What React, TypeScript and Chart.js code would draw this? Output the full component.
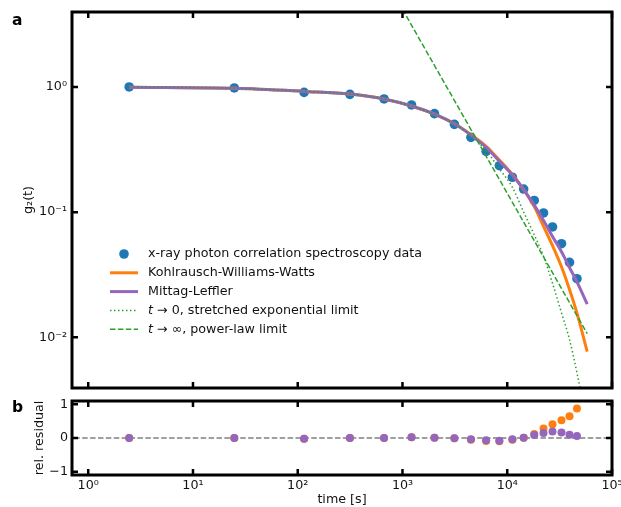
import React, { useEffect, useRef } from 'react';
import { Chart, registerables } from 'chart.js';

Chart.register(...registerables);

const FONT = '"DejaVu Sans", sans-serif';
const TXT = '#111111';

// measured correlation data
const times = [2.46, 24.8, 115, 315, 667, 1220, 2020, 3130, 4500, 6290, 8410, 11200, 14350, 18100, 22200, 27050, 32950, 39300, 46300];
const g2Data = [1.0, 0.982, 0.905, 0.873, 0.802, 0.718, 0.612, 0.503, 0.396, 0.306, 0.235, 0.19, 0.153, 0.124, 0.0986, 0.0762, 0.056, 0.0397, 0.0294];

// fitted curves
const fitTimes = [2.46, 24.8, 115, 315, 667, 1220, 2020, 3130, 4500, 6290, 8410, 11200, 14350, 18100, 22200, 27050, 32950, 39300, 46300, 58000];
const kwwFit = [0.995, 0.976, 0.922, 0.879, 0.802, 0.704, 0.606, 0.508, 0.417, 0.336, 0.261, 0.2, 0.1515, 0.1107, 0.077, 0.054, 0.0366, 0.0241, 0.0156, 0.0077];
const mlFit = [0.995, 0.976, 0.922, 0.879, 0.802, 0.704, 0.606, 0.508, 0.4125, 0.329, 0.2554, 0.198, 0.1515, 0.1138, 0.0857, 0.064, 0.0483, 0.0361, 0.0277, 0.0184];
const shortTimeLimit = [0.995, 0.976, 0.922, 0.879, 0.802, 0.704, 0.606, 0.505, 0.41, 0.31, 0.222, 0.158, 0.1, 0.066, 0.0444, 0.027, 0.0157, 0.0096, 0.0052, 0.002];
const powerLawTimes = [1000, 58000];
const powerLawValues = [4.17, 0.0107];

// relative residuals
const resKWW = [0, 0, -0.02, 0, 0, 0.02, 0.01, -0.01, -0.05, -0.09, -0.1, -0.05, 0.01, 0.12, 0.28, 0.41, 0.53, 0.65, 0.88];
const resML = [0, 0, -0.02, 0, 0, 0.02, 0.01, -0.01, -0.04, -0.07, -0.08, -0.04, 0.01, 0.09, 0.15, 0.19, 0.16, 0.1, 0.06];

// axes
const xMin = 0.736;
const xMax = 1e5;
const yMin = 0.00394;
const yMax = 3.97;
const resMin = -1.1;
const resMax = 1.1;
const xDecades = [1, 10, 100, 1000, 10000, 100000];
const yDecades = [0.01, 0.1, 1];
const resTicks = [-1, 0, 1];
const zeroLineT = [xMin, xMax];
const zeroLineV = [0, 0];

const BLUE = '#1f77b4';
const ORANGE = '#ff7f0e';
const PURPLE = '#9467bd';
const GREEN = '#2ca02c';

const SUP: Record<string, string> = { '-': '⁻', '0': '⁰', '1': '¹', '2': '²', '3': '³', '4': '⁴', '5': '⁵', '6': '⁶', '7': '⁷', '8': '⁸', '9': '⁹' };
const decadeLabel = (v: number) =>
  '10' + String(Math.round(Math.log10(v))).split('').map((c) => SUP[c] || c).join('');

const pts = (xs: number[], ys: number[]) => xs.map((x, i) => ({ x, y: ys[i] }));

function makeFramePlugin(xT: number[], yT: number[], extra?: (chart: any) => void) {
  return {
    id: 'frame',
    afterDatasetsDraw(chart: any) {
      const { ctx, chartArea: a } = chart;
      const xs = chart.scales.x;
      const ys = chart.scales.y;
      ctx.save();
      ctx.strokeStyle = '#000';
      ctx.lineWidth = 2.5;
      ctx.setLineDash([]);
      const L = 6;
      ctx.beginPath();
      xT.forEach((v) => {
        const p = xs.getPixelForValue(v);
        ctx.moveTo(p, a.top);
        ctx.lineTo(p, a.top + L);
        ctx.moveTo(p, a.bottom);
        ctx.lineTo(p, a.bottom - L);
      });
      yT.forEach((v) => {
        const p = ys.getPixelForValue(v);
        ctx.moveTo(a.left, p);
        ctx.lineTo(a.left + L, p);
        ctx.moveTo(a.right, p);
        ctx.lineTo(a.right - L, p);
      });
      ctx.stroke();
      ctx.lineWidth = 3;
      ctx.strokeRect(a.left, a.top, a.right - a.left, a.bottom - a.top);
      ctx.restore();
      if (extra) extra(chart);
    },
  };
}

type LegendRow = { kind: 'dot' | 'line'; color: string; width?: number; dash?: number[]; parts: [string, boolean][] };
const legendRows: LegendRow[] = [
  { kind: 'dot', color: BLUE, parts: [['x-ray photon correlation spectroscopy data', false]] },
  { kind: 'line', color: ORANGE, width: 3, dash: [], parts: [['Kohlrausch-Williams-Watts', false]] },
  { kind: 'line', color: PURPLE, width: 3, dash: [], parts: [['Mittag-Leffler', false]] },
  { kind: 'line', color: GREEN, width: 1.5, dash: [1.5, 2.5], parts: [['t', true], [' → 0, stretched exponential limit', false]] },
  { kind: 'line', color: GREEN, width: 1.5, dash: [5.5, 2.4], parts: [['t', true], [' → ∞, power-law limit', false]] },
];

function drawTopExtras(chart: any) {
  const { ctx } = chart;
  ctx.save();
  // legend
  const x0 = 110;
  const x1 = 138;
  const tx = 148;
  let y = 254;
  legendRows.forEach((r) => {
    if (r.kind === 'dot') {
      ctx.fillStyle = r.color;
      ctx.beginPath();
      ctx.arc((x0 + x1) / 2, y, 4.8, 0, Math.PI * 2);
      ctx.fill();
    } else {
      ctx.strokeStyle = r.color;
      ctx.lineWidth = r.width || 1.5;
      ctx.setLineDash(r.dash || []);
      ctx.beginPath();
      ctx.moveTo(x0, y);
      ctx.lineTo(x1, y);
      ctx.stroke();
      ctx.setLineDash([]);
    }
    let cx = tx;
    ctx.fillStyle = TXT;
    ctx.textBaseline = 'middle';
    ctx.textAlign = 'left';
    r.parts.forEach(([s, it]) => {
      ctx.font = (it ? 'italic ' : '') + '12.7px ' + FONT;
      ctx.fillText(s, cx, y);
      cx += ctx.measureText(s).width;
    });
    y += 18.8;
  });
  // panel label
  ctx.font = 'bold 15.5px ' + FONT;
  ctx.fillStyle = '#000';
  ctx.textBaseline = 'alphabetic';
  ctx.fillText('a', 12, 24.5);
  // y title
  ctx.save();
  ctx.translate(28.5, 200);
  ctx.rotate(-Math.PI / 2);
  ctx.font = '12.7px ' + FONT;
  ctx.fillStyle = TXT;
  ctx.textAlign = 'center';
  ctx.textBaseline = 'middle';
  ctx.fillText('g₂(t)', 0, 0);
  ctx.restore();
  ctx.restore();
}

function drawBottomExtras(chart: any) {
  const { ctx, chartArea: a } = chart;
  ctx.save();
  ctx.font = 'bold 15.5px ' + FONT;
  ctx.fillStyle = '#000';
  ctx.textBaseline = 'alphabetic';
  ctx.fillText('b', 12, 412 - 395);
  ctx.font = '12.7px ' + FONT;
  ctx.fillStyle = TXT;
  ctx.textAlign = 'center';
  ctx.textBaseline = 'middle';
  ctx.fillText('time [s]', (a.left + a.right) / 2, 500 - 395);
  ctx.save();
  ctx.translate(40, (a.top + a.bottom) / 2);
  ctx.rotate(-Math.PI / 2);
  ctx.fillText('rel. residual', 0, 0);
  ctx.restore();
  ctx.restore();
}

const tickFont = { family: FONT, size: 12.7 };

export default function App() {
  const topRef = useRef<HTMLCanvasElement>(null);
  const botRef = useRef<HTMLCanvasElement>(null);

  useEffect(() => {
    const top = new Chart(topRef.current as HTMLCanvasElement, {
      type: 'scatter',
      data: {
        datasets: [
          {
            label: 't → ∞, power-law limit',
            data: pts(powerLawTimes, powerLawValues),
            showLine: true,
            borderColor: GREEN,
            borderWidth: 1.5,
            borderDash: [5.5, 2.4],
            pointRadius: 0,
            order: 1,
          },
          {
            label: 't → 0, stretched exponential limit',
            data: pts(fitTimes, shortTimeLimit),
            showLine: true,
            borderColor: GREEN,
            borderWidth: 1.5,
            borderDash: [1.5, 2.5],
            cubicInterpolationMode: 'monotone',
            pointRadius: 0,
            order: 2,
          },
          {
            label: 'Mittag-Leffler',
            data: pts(fitTimes, mlFit),
            showLine: true,
            borderColor: PURPLE,
            borderWidth: 3,
            cubicInterpolationMode: 'monotone',
            pointRadius: 0,
            order: 3,
          },
          {
            label: 'Kohlrausch-Williams-Watts',
            data: pts(fitTimes, kwwFit),
            showLine: true,
            borderColor: ORANGE,
            borderWidth: 3,
            cubicInterpolationMode: 'monotone',
            pointRadius: 0,
            order: 4,
          },
          {
            label: 'x-ray photon correlation spectroscopy data',
            data: pts(times, g2Data),
            showLine: false,
            backgroundColor: BLUE,
            borderWidth: 0,
            pointRadius: 4.8,
            order: 5,
          },
        ],
      } as any,
      options: {
        responsive: false,
        animation: false,
        events: [],
        layout: { padding: { left: 0, right: 9, top: 12, bottom: 7 } },
        plugins: { legend: { display: false }, tooltip: { enabled: false } },
        scales: {
          x: { type: 'logarithmic', min: xMin, max: xMax, display: false },
          y: {
            type: 'logarithmic',
            min: yMin,
            max: yMax,
            grid: { display: false, drawTicks: false },
            border: { display: false },
            ticks: { font: tickFont, color: TXT, padding: 5, autoSkip: false, callback: (v: any) => decadeLabel(Number(v)) },
            afterBuildTicks: (s: any) => {
              s.ticks = yDecades.map((v) => ({ value: v }));
            },
            afterFit: (s: any) => {
              s.width = 72;
              s.paddingTop = 0;
              s.paddingBottom = 0;
            },
          },
        },
      } as any,
      plugins: [makeFramePlugin(xDecades, yDecades, drawTopExtras)],
    });

    const bot = new Chart(botRef.current as HTMLCanvasElement, {
      type: 'scatter',
      data: {
        datasets: [
          {
            label: 'Mittag-Leffler residual',
            data: pts(times, resML),
            backgroundColor: PURPLE,
            borderWidth: 0,
            pointRadius: 4,
            order: 1,
          },
          {
            label: 'KWW residual',
            data: pts(times, resKWW),
            backgroundColor: ORANGE,
            borderWidth: 0,
            pointRadius: 4,
            order: 2,
          },
          {
            label: 'zero',
            data: pts(zeroLineT, zeroLineV),
            showLine: true,
            borderColor: '#808080',
            borderWidth: 1.5,
            borderDash: [5.5, 2.4],
            pointRadius: 0,
            order: 3,
          },
        ],
      } as any,
      options: {
        responsive: false,
        animation: false,
        events: [],
        layout: { padding: { left: 0, right: 9, top: 6, bottom: 0 } },
        plugins: { legend: { display: false }, tooltip: { enabled: false } },
        scales: {
          x: {
            type: 'logarithmic',
            min: xMin,
            max: xMax,
            grid: { display: false, drawTicks: false },
            border: { display: false },
            ticks: { font: tickFont, color: TXT, padding: 3, maxRotation: 0, autoSkip: false, callback: (v: any) => decadeLabel(Number(v)) },
            afterBuildTicks: (s: any) => {
              s.ticks = xDecades.map((v) => ({ value: v }));
            },
            afterFit: (s: any) => {
              s.height = 32;
              s.paddingLeft = 0;
              s.paddingRight = 0;
            },
          },
          y: {
            type: 'linear',
            min: resMin,
            max: resMax,
            grid: { display: false, drawTicks: false },
            border: { display: false },
            ticks: {
              font: tickFont,
              color: TXT,
              padding: 4,
              autoSkip: false,
              callback: (v: any) => (Number(v) < 0 ? '−' + Math.abs(Number(v)) : String(v)),
            },
            afterBuildTicks: (s: any) => {
              s.ticks = resTicks.map((v) => ({ value: v }));
            },
            afterFit: (s: any) => {
              s.width = 72;
              s.paddingTop = 0;
              s.paddingBottom = 0;
            },
          },
        },
      } as any,
      plugins: [makeFramePlugin(xDecades, resTicks, drawBottomExtras)],
    });

    return () => {
      top.destroy();
      bot.destroy();
    };
  }, []);

  return (
    <div style={{ position: 'absolute', left: 0, top: 0, width: 621, height: 507, background: '#fff' }}>
      <canvas ref={topRef} width={621} height={395} style={{ position: 'absolute', left: 0, top: 0, width: 621, height: 395 }} />
      <canvas ref={botRef} width={621} height={112} style={{ position: 'absolute', left: 0, top: 395, width: 621, height: 112 }} />
    </div>
  );
}
